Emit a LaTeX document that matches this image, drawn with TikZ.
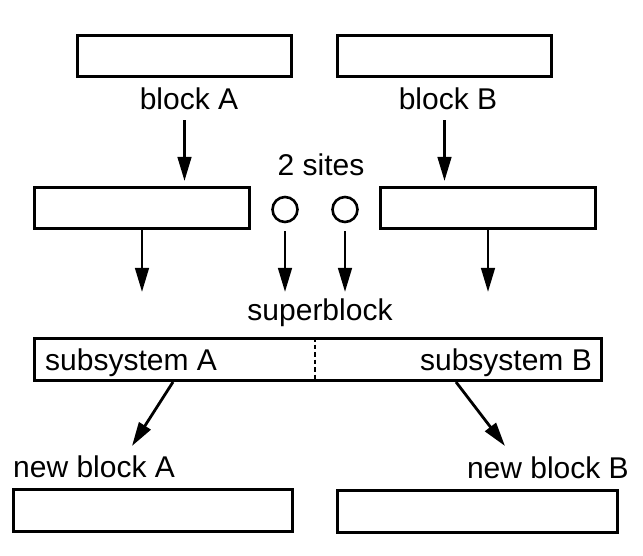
\documentclass[tikz,border=0pt]{standalone}
\usepackage{fontspec}
\setmainfont{Liberation Sans}
\usetikzlibrary{arrows.meta, positioning}

\begin{document}
\begin{tikzpicture}[
  x=1pt, y=-1pt,
  blk/.style={
    rectangle, draw=black, line width=3pt, fill=white,
    minimum width=214pt, minimum height=41pt, inner sep=0pt
  },
  site/.style={
    circle, draw=black, line width=2.6pt,
    minimum size=25pt, inner sep=0pt
  },
  lbl/.style={font=\fontsize{30}{35}\selectfont, inner sep=0pt, anchor=base},
  arr/.style={-{Triangle[length=24pt, width=13.5pt]}, line width=2.8pt, color=black},
  cut/.style={line width=2.6pt, dash pattern=on 4.5pt off 3pt},
]
\useasboundingbox (0,0) rectangle (643,556);

%% Bloques de partida
\node[blk]  (blkA)  at (184.5, 56)  {};
\node[blk]  (blkB)  at (444.5, 56)  {};
\node[lbl]  (labA)  at (189, 110)   {block A};
\node[lbl]  (labB)  at (448, 110)   {block B};

%% Bloques ampliados y sitios
\node[blk, minimum width=215pt] (midA) at (142, 208) {};
\node[blk, minimum width=215pt] (midB) at (488, 208) {};
\node[site] (s1)    at (285, 209.5) {};
\node[site] (s2)    at (345, 209.5) {};
\node[lbl]  (sites) at (321, 176)   {2 sites};

%% Superbloque
\node[lbl]  (sbtxt) at (320, 320)   {superblock};
\node[blk, minimum width=567pt, minimum height=42pt] (sb) at (318, 359.5) {};
\draw[cut] ([xshift=-3pt]sb.north) -- ([xshift=-3pt]sb.south);
\node[lbl, anchor=base west] (subA) at (45, 370)  {subsystem A};
\node[lbl, anchor=base east] (subB) at (592, 370) {subsystem B};

%% Nuevos bloques
\node[lbl, anchor=base west] (labNA) at (13, 477)  {new block A};
\node[lbl, anchor=base east] (labNB) at (629, 478) {new block B};
\node[blk, minimum width=279pt, minimum height=42pt] (newA) at (153, 510.5)   {};
\node[blk, minimum width=280pt, minimum height=42pt] (newB) at (477.5, 511.5) {};

%% Flechas
\coordinate (join) at (0, 292);
\coordinate (tipA) at (132, 446);
\coordinate (tipB) at (505, 446);
\draw[arr, shorten <=10pt, shorten >=5pt] (labA.south -| blkA) -- (midA.north -| blkA);
\draw[arr, shorten <=10pt, shorten >=5pt] (labB.south -| blkB) -- (midB.north -| blkB);
\draw[arr] (midA.south) -- (midA.south |- join);
\draw[arr] (midB.south) -- (midB.south |- join);
\draw[arr, shorten <=8pt] (s1.south) -- (s1.south |- join);
\draw[arr, shorten <=8pt] (s2.south) -- (s2.south |- join);
\draw[arr] ([xshift=-145pt]sb.south) -- (tipA);
\draw[arr] ([xshift=138pt]sb.south)  -- (tipB);

\end{tikzpicture}
\end{document}
